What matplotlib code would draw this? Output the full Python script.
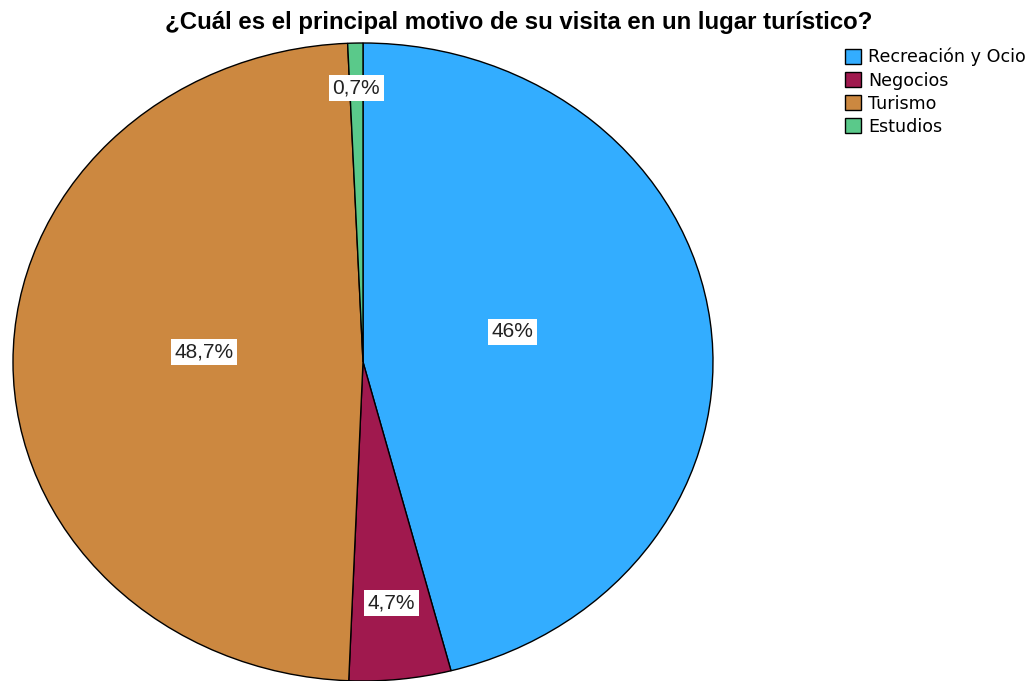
import numpy as np
import matplotlib.pyplot as plt
from matplotlib.patches import Patch

# datos del gráfico
categorias = ['Recreación y Ocio', 'Negocios', 'Turismo', 'Estudios']
porcentajes = [46.0, 4.7, 48.7, 0.7]
etiquetas = ['46%', '4,7%', '48,7%', '0,7%']
colores = ['#33adff', '#a0194e', '#cc8840', '#5ac98a']

# posición de cada etiqueta: distancia al centro (fracción del radio) y ajuste vertical
dist_etiqueta = [0.43, 0.76, 0.455, 0.86]
ajuste_y = [0.04, 0.0, 0.031, 0.0]

titulo = '¿Cuál es el principal motivo de su visita en un lugar turístico?'

W, H = 1035, 681
fig = plt.figure(figsize=(W / 100, H / 100), dpi=100)

# el pastel de SPSS es una elipse: 700 x 638 px
ax = fig.add_axes([13 / W, 0 / H, 700 / W, 638 / H])
wedges, _ = ax.pie(porcentajes, colors=colores, startangle=90, counterclock=False,
                   wedgeprops=dict(edgecolor='black', linewidth=1.0), frame=False)
ax.set_aspect('auto')
ax.set_xlim(-1, 1)
ax.set_ylim(-1, 1)
ax.axis('off')

for w, txt, d, dy in zip(wedges, etiquetas, dist_etiqueta, ajuste_y):
    ang = np.deg2rad((w.theta1 + w.theta2) / 2)
    ax.text(d * np.cos(ang), d * np.sin(ang) + dy, txt, ha='center', va='center',
            fontsize=15, family='Liberation Sans', color='#222222',
            bbox=dict(facecolor='white', edgecolor='none', pad=2.5))

fig.text(519 / W, 1 - 23 / H, titulo, ha='center', va='center',
         fontsize=17.3, fontweight='bold', family='Liberation Sans')

handles = [Patch(facecolor=c, edgecolor='black', linewidth=1.0) for c in colores]
fig.legend(handles, categorias, loc='upper left', bbox_to_anchor=(845 / W, 1 - 48 / H),
           frameon=False, prop=dict(family='DejaVu Sans', size=12.6),
           handlelength=0.9, handleheight=0.9, handletextpad=0.4,
           labelspacing=0.29, borderaxespad=0, borderpad=0)

fig.savefig('out.png', dpi=100)
